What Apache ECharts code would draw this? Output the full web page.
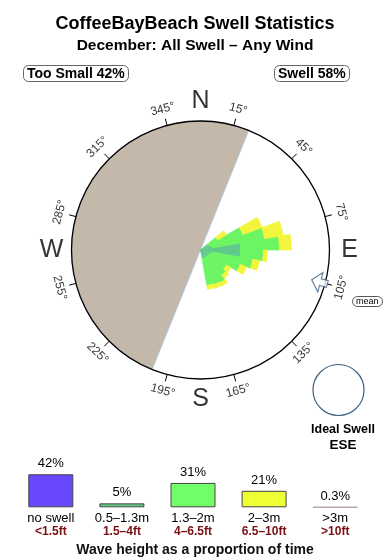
<!DOCTYPE html>
<html><head><meta charset="utf-8">
<script src="https://cdn.jsdelivr.net/npm/echarts@6/dist/echarts.min.js"></script>
<style>html,body{margin:0;padding:0;background:#fff}#c{width:390px;height:560px}</style>
</head><body><div id="c"></div>
<script>
// ---- data ----
const dirBins = ['0','10','20','30','40','50','60','70','80','90','100','110','120','130','140','150','160','170','180','190','200','210','220','230','240','250','260','270','280','290','300','310','320','330','340','350'];
const swellDirs = [50,60,70,80,90,100,110,120,130,140,150,160];
const small = [6.2, 7.8, 9.3, 31, 31, 9.3, 7.8, 7, 7, 7, 7, 6.2];        // 0.5-1.3m
const medium = [9.3, 27.1, 41.1, 30.2, 17.8, 31.8, 24.8, 16.3, 18.6, 22.5, 21.7, 21.7]; // 1.3-2m
const large = [7.8, 15.9, 14.7, 9.3, 3.1, 5.4, 5.4, 3.9, 3.1, 3.1, 3.1, 3.1];   // 2-3m
const shelterFrom = 202, shelterSpan = 180;
const meanDir = 105;
const degTicks = [15,45,75,105,135,165,195,225,255,285,315,345];
const compass = [['N',360],['E',90],['S',180],['W',270]];
const sectors12 = ['15','45','75','105','135','165','195','225','255','285','315','345'];

const heightCats = ['no swell','0.5–1.3m','1.3–2m','2–3m','>3m'];
const heightFt = ['<1.5ft','1.5–4ft','4–6.5ft','6.5–10ft','>10ft'];
const heightPct = [42, 5, 31, 21, 0.3];
const heightLbl = ['42%','5%','31%','21%','0.3%'];
const heightCol = ['#6a48ff','#66cc88','#70ff66','#eeff33','#b8a8a8'];

// ---- build ----
function binArr(vals){
  const a = dirBins.map(()=>null);
  swellDirs.forEach((d,i)=>{ a[dirBins.indexOf(String(d))] = vals[i]; });
  return a;
}
const CX = 200.5, CY = 250, R = 129;
const FONT = '"Liberation Sans", Arial, sans-serif';

const degLabelData = degTicks.map(d=>{
  const m = d % 180; const cw = m <= 90 ? m : m - 180;
  return {value:[113, dirBins.indexOf(String(Math.floor(d/10)*10))], label:{formatter: d+'°', rotate: -cw}};
});
const compassData = compass.map(([t,a])=>({value:[115.5, (a/30 - 1 + 12) % 12], label:{formatter:t}}));

const chart = echarts.init(document.getElementById('c'));
const barCommon = {type:'bar', coordinateSystem:'polar', polarIndex:0, stack:'s', barCategoryGap:'0%', barWidth:'100%', z:3, silent:true};
const sty = c => ({color:c, borderColor:c, borderWidth:0.6});
chart.setOption({
  animation:false,
  textStyle:{fontFamily:FONT},
  title:[
    {text:'CoffeeBayBeach Swell Statistics', left:'center', top:10, textStyle:{fontSize:18, fontWeight:'bold', color:'#000', fontFamily:FONT}},
    {text:'December: All Swell – Any Wind', left:'center', top:33, textStyle:{fontSize:15.5, fontWeight:'bold', color:'#000', fontFamily:FONT}},
    {text:'Too Small 42%', left:23, top:65, padding:[2,4,1,4], borderWidth:1, borderColor:'#666', borderRadius:5, textStyle:{fontSize:14, fontWeight:'bold', color:'#000', fontFamily:FONT}},
    {text:'Swell 58%', left:274, top:65, padding:[2,4,1,4], borderWidth:1, borderColor:'#666', borderRadius:5, textStyle:{fontSize:14, fontWeight:'bold', color:'#000', fontFamily:FONT}},
    {text:'mean', left:352, top:296, padding:[1,4,1,4], borderWidth:1, borderColor:'#555', borderRadius:5, textStyle:{fontSize:9, fontWeight:'normal', color:'#000', fontFamily:FONT}},
    {text:'Ideal Swell', left:338, textAlign:'center', top:418, textStyle:{fontSize:12.5, fontWeight:'bold', color:'#000', fontFamily:FONT}},
    {text:'ESE', left:338, textAlign:'center', top:433, textStyle:{fontSize:13.5, fontWeight:'bold', color:'#000', fontFamily:FONT}},
    {text:'Wave height as a proportion of time', left:'center', top:538, textStyle:{fontSize:14, fontWeight:'bold', color:'#111', fontFamily:FONT}}
  ],
  graphic:[{type:'circle', shape:{cx:338.5, cy:390, r:25.5}, style:{fill:'none', stroke:'#3d5f80', lineWidth:1.2}}],
  polar:[{center:[CX,CY], radius:R},{center:[CX,CY], radius:R}],
  angleAxis:[
    {polarIndex:0, type:'category', data:dirBins, startAngle:90, clockwise:true, boundaryGap:true,
     axisLine:{show:false}, axisTick:{show:false}, axisLabel:{show:false}, splitLine:{show:false}},
    {polarIndex:1, type:'category', data:sectors12, startAngle:75, clockwise:true, boundaryGap:true, z:10,
     axisLine:{show:true, lineStyle:{color:'#000', width:1.3}},
     axisTick:{show:true, interval:0, length:7, lineStyle:{color:'#000', width:1}},
     axisLabel:{show:false}, splitLine:{show:false}}
  ],
  radiusAxis:[
    {polarIndex:0, type:'value', min:0, max:100, show:false, axisLine:{show:false}, axisTick:{show:false}, axisLabel:{show:false}, splitLine:{show:false}},
    {polarIndex:1, type:'value', min:0, max:100, show:false, axisLine:{show:false}, axisTick:{show:false}, axisLabel:{show:false}, splitLine:{show:false}}
  ],
  grid:{left:15.25, right:19.25, top:468, bottom:52.7},
  xAxis:{type:'category', data:heightCats, axisLine:{show:false}, axisTick:{show:false},
    axisLabel:{interval:0, margin:5, formatter:(v,i)=>'{a|'+v+'}\n{b|'+heightFt[i]+'}',
      rich:{a:{fontSize:13, color:'#000', lineHeight:13, fontFamily:FONT}, b:{fontSize:12, color:'#7a1010', fontWeight:'bold', lineHeight:13, fontFamily:FONT}}}},
  yAxis:{type:'value', min:0, max:50, show:false, splitLine:{show:false}},
  series:[
    {type:'pie', center:[CX,CY], radius:R, startAngle:90-shelterFrom, clockwise:true, silent:true, z:1,
     label:{show:false}, labelLine:{show:false}, emphasis:{disabled:true},
     data:[{value:shelterSpan, itemStyle:{color:'#c4b8aa', borderColor:'#a9cbe6', borderWidth:0.8}},
           {value:360-shelterSpan, itemStyle:{color:'rgba(0,0,0,0)'}}]},
    Object.assign({}, barCommon, {data:binArr(small), itemStyle:sty('#60c98b')}),
    Object.assign({}, barCommon, {data:binArr(medium), itemStyle:sty('#6cf563')}),
    Object.assign({}, barCommon, {data:binArr(large), itemStyle:sty('#f2f53b')}),
    {type:'scatter', coordinateSystem:'polar', polarIndex:0, clip:false, silent:true, z:12,
     symbol:'circle', symbolSize:1, itemStyle:{color:'rgba(0,0,0,0)'},
     label:{show:true, position:'inside', fontSize:12, color:'#000', fontFamily:FONT},
     data:degLabelData},
    {type:'scatter', coordinateSystem:'polar', polarIndex:1, clip:false, silent:true, z:12,
     symbol:'circle', symbolSize:1, itemStyle:{color:'rgba(0,0,0,0)'},
     label:{show:true, position:'inside', fontSize:25, color:'#000', fontFamily:FONT},
     data:compassData},
    {type:'scatter', coordinateSystem:'polar', polarIndex:0, clip:false, silent:true, z:13,
     symbol:'path://M0,0 L10,10 L3.5,10 L3.5,18 L-3.5,18 L-3.5,10 L-10,10 Z', symbolSize:[20,18], symbolKeepAspect:true,
     symbolRotate: 360 - (meanDir + 180 - 360),
     itemStyle:{color:'#fff', borderColor:'#3d5f80', borderWidth:1.2},
     data:[[95.5, dirBins.indexOf(String(Math.floor(meanDir/10)*10))]]},
    {type:'bar', xAxisIndex:0, yAxisIndex:0, barWidth:45, silent:true,
     label:{show:true, position:'top', distance:4, fontSize:13, color:'#000', fontFamily:FONT, formatter:p=>heightLbl[p.dataIndex]},
     data:heightPct.map((v,i)=>({value:v, itemStyle:{color:heightCol[i], borderColor: i===4 ? '#b8a8a8' : '#444', borderWidth: i===4 ? 1.5 : 1}}))}
  ]
});
</script></body></html>
